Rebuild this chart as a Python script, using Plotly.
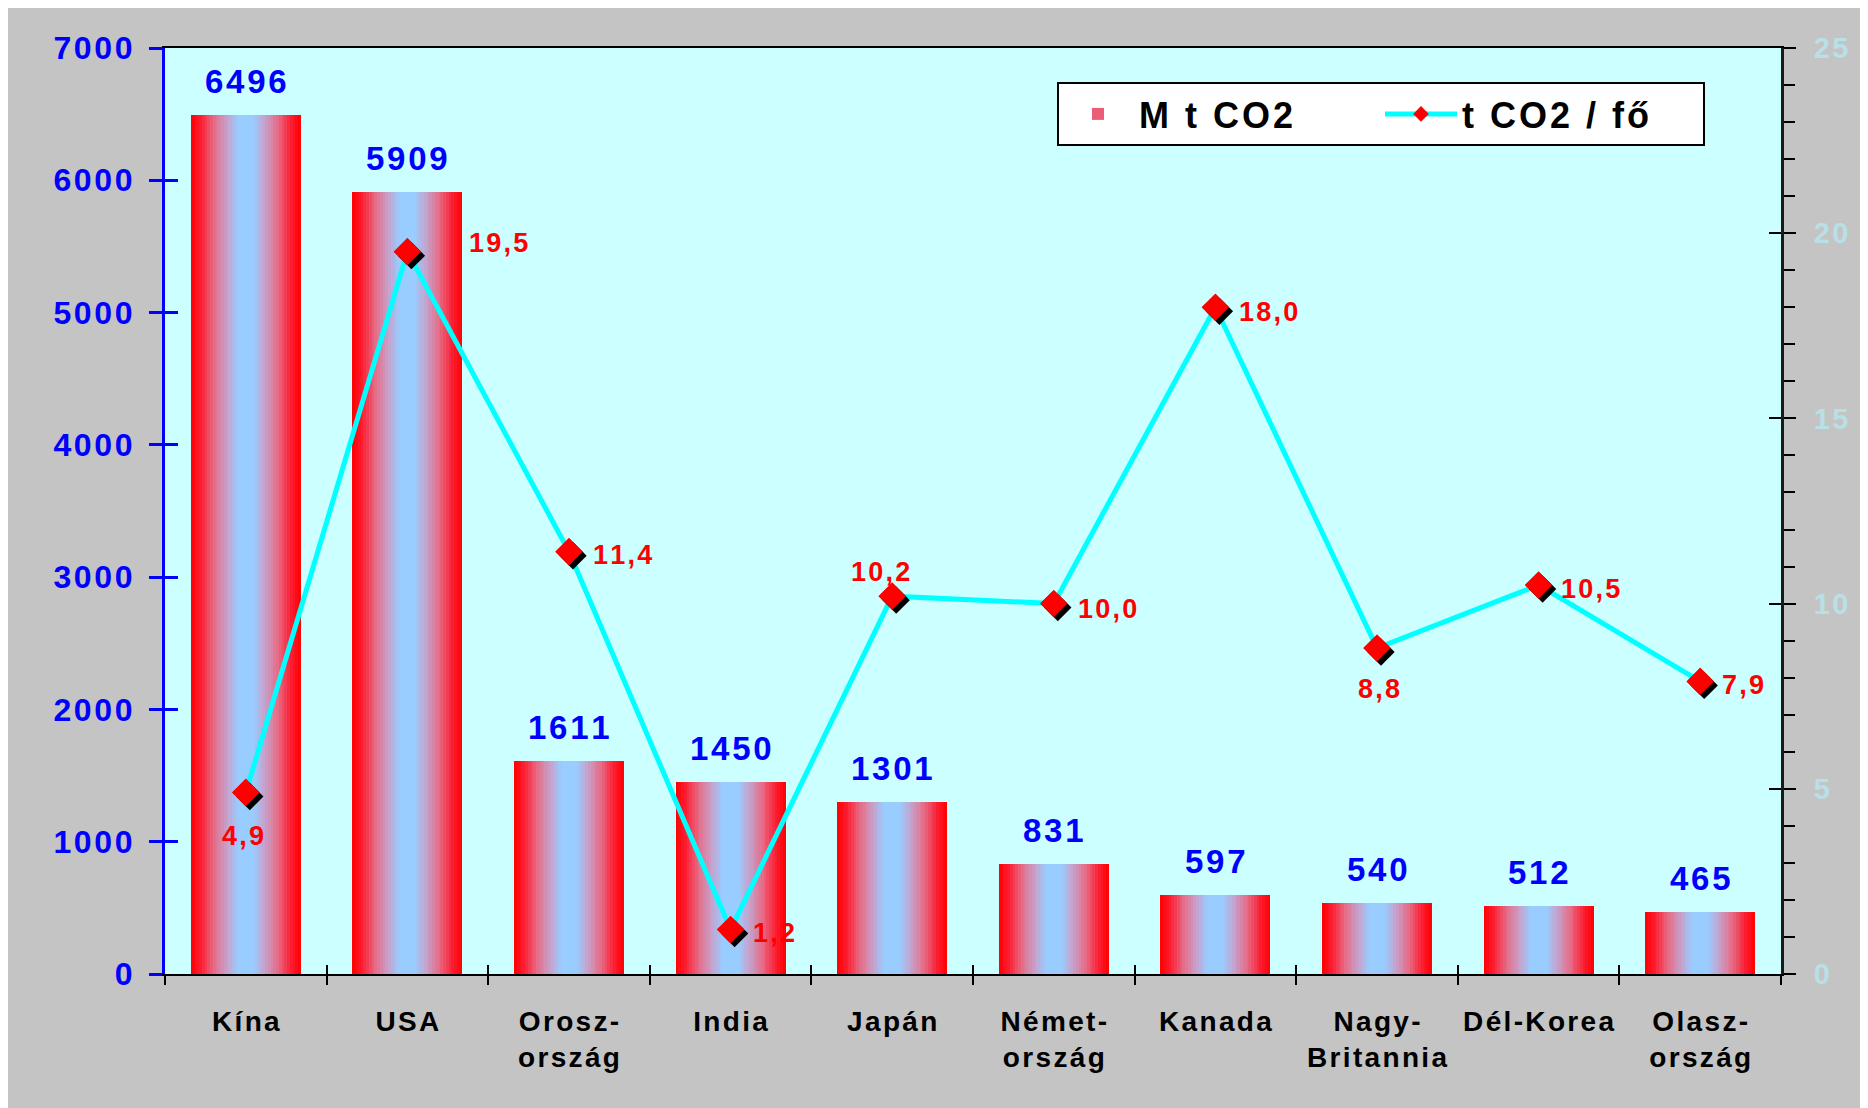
import plotly.graph_objects as go

# ---------------- data ----------------
categories = ["Kína", "USA", "Orosz-ország", "India", "Japán", "Német-ország",
              "Kanada", "Nagy-Britannia", "Dél-Korea", "Olasz-ország"]
tick_labels = ["Kína", "USA", "Orosz-<br>ország", "India", "Japán", "Német-<br>ország",
               "Kanada", "Nagy-<br>Britannia", "Dél-Korea", "Olasz-<br>ország"]
mt_co2 = [6496, 5909, 1611, 1450, 1301, 831, 597, 540, 512, 465]
t_co2_per_capita = [4.9, 19.5, 11.4, 1.2, 10.2, 10.0, 18.0, 8.8, 10.5, 7.9]
line_labels = ["4,9", "19,5", "11,4", "1,2", "10,2", "10,0", "18,0", "8,8", "10,5", "7,9"]
left_ticks = [0, 1000, 2000, 3000, 4000, 5000, 6000, 7000]
right_ticks = [0, 5, 10, 15, 20, 25]

# label placement styles (pixel offsets: xanchor, xshift, yanchor, yshift)
line_label_pos = [
    ("center", -3, "top", -26),
    ("left", 60, "middle", 9),
    ("left", 22, "middle", -3),
    ("left", 20, "middle", -3),
    ("center", -12, "middle", 24),
    ("left", 22, "middle", -5),
    ("left", 22, "middle", -5),
    ("center", 2, "top", -24),
    ("left", 20, "middle", -4),
    ("left", 20, "middle", -4),
]

HS = "\u200a"  # hair space for the wide letter spacing of the original


def spaced(s):
    return "<br>".join(HS.join(list(part)) for part in s.split("<br>"))


# ---------------- geometry / style ----------------
W, H = 1860, 1100
ML, MR, MT, MB = 157, 87, 40, 134
PW = W - ML - MR
PH = H - MT - MB
cat_px = PW / len(categories)
FONT = "Liberation Sans, Arial, sans-serif"
BAR_W = 0.68
N_STRIPS = 40
# gradient stops from bar edge (0) to bar centre (1)
STOPS = [(0.0, (255, 0, 0)), (0.18, (252, 30, 50)), (0.42, (230, 108, 135)),
         (0.66, (198, 162, 205)), (0.86, (153, 204, 255)), (1.0, (153, 204, 255))]


def mix(t):
    s = 1 - abs(2 * t - 1)
    for (a, ca), (b, cb) in zip(STOPS[:-1], STOPS[1:]):
        if a <= s <= b:
            u = (s - a) / (b - a)
            c = [round(ca[k] + (cb[k] - ca[k]) * u) for k in range(3)]
            return "rgb(%d,%d,%d)" % tuple(c)
    return "rgb(153,204,255)"


fig = go.Figure()

# gradient bars built from vertical strips
sw = BAR_W / N_STRIPS
for i in range(N_STRIPS):
    t = (i + 0.5) / N_STRIPS
    fig.add_trace(go.Bar(
        x=categories, y=mt_co2,
        width=sw * 1.2 if i < N_STRIPS - 1 else sw, offset=-BAR_W / 2 + i * sw,
        marker=dict(color=mix(t), line=dict(width=0)),
        name=spaced("M t CO2"),
        showlegend=(i == 7),
        legendgroup="bars",
        hoverinfo="skip" if i != N_STRIPS // 2 else None,
        xaxis="x", yaxis="y",
    ))

# line (with legend)
fig.add_trace(go.Scatter(
    x=categories, y=t_co2_per_capita, mode="lines+markers",
    name=spaced("t CO2 / fő"),
    line=dict(color="#00ffff", width=5),
    marker=dict(symbol="diamond", size=21, color="#ff0000", line=dict(width=0)),
    xaxis="x", yaxis="y2",
))

# marker shadow (shifted axes)
fig.add_trace(go.Scatter(
    x=categories, y=t_co2_per_capita, mode="markers", showlegend=False,
    marker=dict(symbol="diamond", size=21, color="#000000", line=dict(width=0)),
    hoverinfo="skip", xaxis="x2", yaxis="y3",
))
# top red markers
fig.add_trace(go.Scatter(
    x=categories, y=t_co2_per_capita, mode="markers", showlegend=False,
    marker=dict(symbol="diamond", size=21, color="#ff0000", line=dict(width=0)),
    hoverinfo="skip", xaxis="x3", yaxis="y4",
))
# empty trace to host left inner-tick axis
fig.add_trace(go.Scatter(x=[None], y=[None], mode="markers", showlegend=False,
                         hoverinfo="skip", xaxis="x3", yaxis="y5"))

# ---------------- annotations ----------------
ann = []
for c, v in zip(categories, mt_co2):
    ann.append(dict(x=c, y=v, xref="x", yref="y", text=spaced(f"{v}"), showarrow=False,
                    xanchor="center", yanchor="bottom", yshift=13,
                    font=dict(family=FONT, size=33, color="#0000ff", weight="bold")))
for c, v, lab, (xa, xs, ya, ys) in zip(categories, t_co2_per_capita, line_labels, line_label_pos):
    ann.append(dict(x=c, y=v, xref="x", yref="y2", text=spaced(lab), showarrow=False,
                    xanchor=xa, xshift=xs, yanchor=ya, yshift=ys,
                    font=dict(family=FONT, size=27, color="#ff0000", weight="bold")))

dx = 4 / cat_px
dy = 4 * 25 / PH
xr = [-0.5, len(categories) - 0.5]

fig.update_layout(
    width=W, height=H,
    margin=dict(l=ML, r=MR, t=MT, b=MB, pad=0),
    paper_bgcolor="#c4c4c4",
    plot_bgcolor="#ccffff",
    barmode="overlay",
    bargap=0,
    showlegend=True,
    legend=dict(
        orientation="h", x=(1049 - ML) / PW, y=(H - MB - 74) / PH,
        xanchor="left", yanchor="top",
        bgcolor="#ffffff", bordercolor="#000000", borderwidth=2,
        font=dict(family=FONT, size=36, color="#000000", weight="bold"),
        entrywidth=236, itemsizing="constant", itemwidth=72,
    ),
    annotations=ann,
    xaxis=dict(
        type="category", categoryorder="array", categoryarray=categories,
        range=xr, tickvals=categories, ticktext=[spaced(s) for s in tick_labels],
        tickson="boundaries", ticks="outside", ticklen=9, tickwidth=2, tickcolor="#000000",
        showline=True, linecolor="#000000", linewidth=2, mirror=True,
        showgrid=False, zeroline=False,
        tickfont=dict(family=FONT, size=28, color="#000000", weight="bold"),
        ticklabelstandoff=21,
    ),
    xaxis2=dict(type="category", categoryorder="array", categoryarray=categories,
                overlaying="x", range=[xr[0] - dx, xr[1] - dx], visible=False),
    xaxis3=dict(type="category", categoryorder="array", categoryarray=categories,
                overlaying="x", range=xr, tickvals=categories, tickson="boundaries",
                ticks="inside", ticklen=9, tickwidth=2, tickcolor="#000000",
                showticklabels=False, showline=False, showgrid=False, zeroline=False),
    yaxis=dict(
        range=[0, 7000], tickvals=left_ticks, ticktext=[spaced(str(v)) for v in left_ticks],
        ticks="outside", ticklen=13, tickwidth=3, tickcolor="#0000ff",
        showline=True, linecolor="#0000ff", linewidth=3,
        showgrid=False, zeroline=False,
        tickfont=dict(family=FONT, size=32, color="#0000ff", weight="bold"),
        ticklabelstandoff=10,
    ),
    yaxis2=dict(
        overlaying="y", side="right", range=[0, 25], tickvals=right_ticks,
        ticktext=[spaced(str(v)) for v in right_ticks],
        ticks="outside", ticklen=12, tickwidth=2, tickcolor="#000000",
        minor=dict(dtick=1, ticks="outside", ticklen=11, tickwidth=2, tickcolor="#000000"),
        showline=True, linecolor="#1a1a1a", linewidth=3,
        showgrid=False, zeroline=False,
        tickfont=dict(family=FONT, size=29, color="#b8e0e6", weight="bold"),
        ticklabelstandoff=12,
    ),
    yaxis3=dict(overlaying="y", range=[dy, 25 + dy], visible=False),
    yaxis4=dict(overlaying="y", side="right", range=[0, 25], tickvals=right_ticks,
                ticks="inside", ticklen=12, tickwidth=2, tickcolor="#000000",
                showticklabels=False, showline=False, showgrid=False, zeroline=False),
    yaxis5=dict(overlaying="y", side="left", range=[0, 7000], tickvals=left_ticks,
                ticks="inside", ticklen=13, tickwidth=3, tickcolor="#0000ff",
                showticklabels=False, showline=False, showgrid=False, zeroline=False),
)

fig.write_html("out.html")
